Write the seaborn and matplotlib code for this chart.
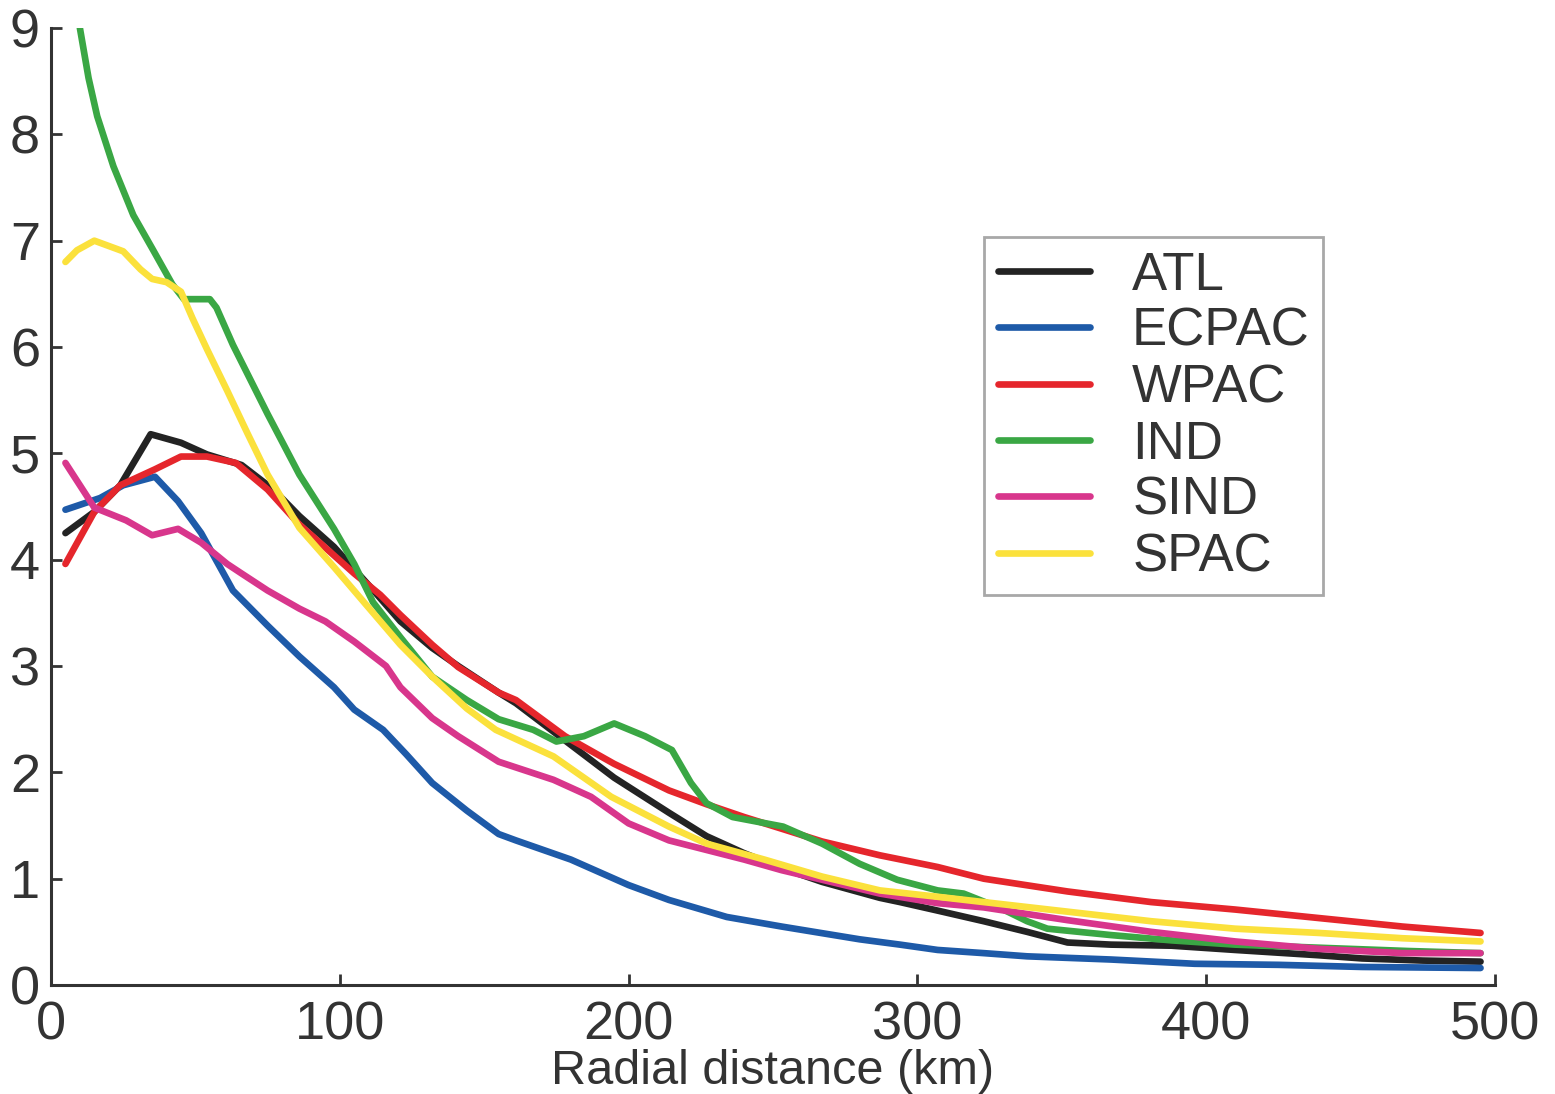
import matplotlib
matplotlib.use("Agg")
import pandas as pd
import seaborn as sns
from matplotlib import pyplot as plt

# radial profiles (x in km)
atl_x = [5, 15, 24, 34.5, 45, 54, 66, 77, 86, 98, 105, 112, 121, 132, 141, 155, 161, 178,
         195, 214, 227, 240, 253, 267, 287, 294, 307, 323, 338, 352, 367, 388, 410, 439,
         454, 475, 495]
atl_y = [4.25, 4.45, 4.7, 5.18, 5.1, 4.99, 4.89, 4.66, 4.41, 4.12, 3.91, 3.7, 3.42, 3.17,
         3.0, 2.75, 2.65, 2.3, 1.95, 1.62, 1.4, 1.24, 1.1, 0.97, 0.82, 0.78, 0.7, 0.6, 0.5,
         0.4, 0.38, 0.37, 0.33, 0.28, 0.25, 0.23, 0.22]

ecpac_x = [5, 17, 25, 36, 44, 52, 63, 75, 86, 98, 105, 115, 123, 132, 144, 155, 161, 180,
           200, 214, 234, 253, 280, 294, 307, 323, 338, 367, 396, 425, 454, 495]
ecpac_y = [4.47, 4.58, 4.7, 4.78, 4.55, 4.25, 3.71, 3.38, 3.09, 2.8, 2.59, 2.4, 2.17, 1.9,
           1.64, 1.42, 1.36, 1.18, 0.94, 0.8, 0.64, 0.55, 0.43, 0.38, 0.33, 0.3, 0.27, 0.24,
           0.2, 0.19, 0.17, 0.16]

wpac_x = [5, 15, 24, 36, 45, 54, 64, 75, 86, 98, 105, 114, 121, 132, 141, 155, 161, 178,
          195, 214, 227, 240, 253, 267, 287, 307, 323, 352, 381, 410, 439, 468, 495]
wpac_y = [3.96, 4.45, 4.7, 4.85, 4.97, 4.97, 4.91, 4.66, 4.33, 4.04, 3.87, 3.67, 3.48, 3.2,
          2.99, 2.75, 2.68, 2.34, 2.08, 1.83, 1.7, 1.58, 1.47, 1.35, 1.22, 1.11, 1.0, 0.88,
          0.78, 0.71, 0.63, 0.55, 0.49]

ind_x = [10, 13, 16, 21.6, 28.5, 35.4, 42, 46, 55, 57.3, 63, 75, 86, 98, 105, 111.5, 121,
         132, 144, 155, 167, 175, 184.5, 195, 205.7, 215, 221.6, 227, 236, 253.5, 267, 280,
         293, 307, 316, 329, 338, 345, 367, 388, 410, 440, 470, 495]
ind_y = [9.0, 8.53, 8.17, 7.7, 7.24, 6.91, 6.59, 6.45, 6.45, 6.37, 6.02, 5.37, 4.8, 4.29,
         3.96, 3.6, 3.27, 2.9, 2.68, 2.5, 2.4, 2.29, 2.34, 2.46, 2.34, 2.21, 1.9, 1.71, 1.58,
         1.49, 1.33, 1.14, 0.99, 0.89, 0.86, 0.72, 0.6, 0.53, 0.47, 0.42, 0.38, 0.35, 0.32,
         0.3]

sind_x = [5, 15, 26, 35, 44, 52, 61, 66, 75, 86, 95, 105, 116, 121, 132, 141, 155, 174,
          187, 200, 214, 227, 240, 253, 267, 287, 307, 323, 352, 381, 410, 439, 468, 495]
sind_y = [4.91, 4.49, 4.37, 4.23, 4.29, 4.16, 3.96, 3.87, 3.71, 3.54, 3.42, 3.23, 3.0, 2.8,
          2.51, 2.34, 2.1, 1.93, 1.77, 1.52, 1.36, 1.27, 1.18, 1.08, 0.99, 0.86, 0.77, 0.73,
          0.61, 0.5, 0.41, 0.34, 0.3, 0.3]

spac_x = [5, 9, 15, 20, 25, 31, 35, 40, 45, 49, 54, 61, 68, 75, 86, 98, 109, 121, 132, 144,
          154, 174, 194, 214, 227, 247, 267, 287, 307, 323, 352, 381, 410, 439, 468, 495]
spac_y = [6.8, 6.91, 7.0, 6.95, 6.9, 6.73, 6.64, 6.61, 6.52, 6.27, 5.98, 5.59, 5.19, 4.8,
          4.3, 3.93, 3.58, 3.2, 2.9, 2.6, 2.4, 2.15, 1.77, 1.49, 1.33, 1.18, 1.02, 0.89, 0.83,
          0.78, 0.69, 0.6, 0.53, 0.49, 0.44, 0.41]

basins = ["ATL", "ECPAC", "WPAC", "IND", "SIND", "SPAC"]
colors = ["#232323", "#1e5aa8", "#e5262c", "#3aa744", "#d8368c", "#fbe13c"]

series = {
    "ATL": (atl_x, atl_y),
    "ECPAC": (ecpac_x, ecpac_y),
    "WPAC": (wpac_x, wpac_y),
    "IND": (ind_x, ind_y),
    "SIND": (sind_x, sind_y),
    "SPAC": (spac_x, spac_y),
}

df = pd.concat(
    [pd.DataFrame({"basin": b, "r": x, "v": y}) for b, (x, y) in series.items()],
    ignore_index=True,
)

sns.set_style("ticks")
plt.rcParams["font.family"] = ["Liberation Sans", "DejaVu Sans"]
ink = "#333333"

fig = plt.figure(figsize=(15.55, 10.94), dpi=100)
ax = fig.add_axes([0.0328, 0.0996, 0.9286, 0.8748])

for basin, color in zip(basins, colors):
    sns.lineplot(
        data=df[df["basin"] == basin],
        x="r",
        y="v",
        color=color,
        linewidth=4.8,
        label=basin,
        sort=False,
        estimator=None,
        ax=ax,
    )

ax.set_xlim(0, 500)
ax.set_ylim(0, 9)
ax.set_xticks([0, 100, 200, 300, 400, 500])
ax.set_yticks(range(10))
sns.despine(ax=ax)
for side in ["left", "bottom"]:
    ax.spines[side].set_linewidth(2.2)
    ax.spines[side].set_color(ink)

ax.tick_params(direction="in", length=8, width=2, colors=ink, labelsize=39)
ax.tick_params(axis="y", pad=8)
ax.tick_params(axis="x", pad=11)
ax.set_xlabel("Radial distance (km)", fontsize=35, color=ink, labelpad=-1)
ax.set_ylabel("")

leg = ax.legend(
    loc="upper left",
    bbox_to_anchor=(0.633, 0.783),
    bbox_transform=fig.transFigure,
    borderaxespad=0,
    fontsize=38,
    handlelength=1.75,
    handletextpad=0.8,
    labelspacing=0.12,
    borderpad=0.25,
    fancybox=False,
    framealpha=1,
)
leg.get_frame().set_edgecolor("#a8a8a8")
leg.get_frame().set_linewidth(2)
for t in leg.get_texts():
    t.set_color(ink)

fig.savefig("out.png", dpi=100)
plt.close(fig)
